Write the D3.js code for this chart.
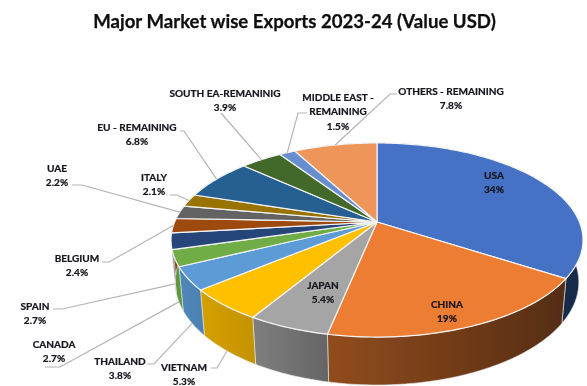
<!DOCTYPE html>
<html>
<head>
<meta charset="utf-8">
<script src="https://cdn.jsdelivr.net/npm/d3@7"></script>
<style>
  html, body { margin: 0; padding: 0; background: #fff; overflow: hidden; }
  text { font-family: Lato, "Open Sans", sans-serif; font-weight: 700; fill: #14141c; }
  .chart-title { font-size: 18.6px; text-anchor: middle; fill: #0c0c0c; stroke: #0c0c0c; stroke-width: 0.25; }
  .slice-label { font-size: 10.05px; text-anchor: middle; stroke: #14141c; stroke-width: 0.22; }
  .leader { fill: none; stroke: #b4b4b4; stroke-width: 1.2; }
  .top-face { stroke: #f4f4f4; stroke-width: 1.2; stroke-linejoin: round; }
  .wall { stroke: #e8e8e8; stroke-width: 0.6; }
</style>
</head>
<body>
<div id="wrapper"></div>
<script>
// values, clockwise from 12 o'clock
const categories = [
  "USA", "CHINA", "JAPAN", "VIETNAM", "THAILAND", "CANADA", "SPAIN",
  "BELGIUM", "UAE", "ITALY", "EU - REMAINING", "SOUTH EA-REMANINIG",
  "MIDDLE EAST - REMAINING", "OTHERS - REMAINING",
];
const shares = [34, 19, 5.4, 5.3, 3.8, 2.7, 2.7, 2.4, 2.2, 2.1, 6.8, 3.9, 1.5, 7.8];
const sliceColors = [
  "#4472c4", "#ed7d31", "#a5a5a5", "#ffc000", "#5b9bd5", "#70ad47", "#264478",
  "#9e480e", "#636363", "#997300", "#255e91", "#43682b", "#698ed0", "#ee955a",
];

// label placement: text lines, centre x, first line y, and leader elbow (none = no leader)
const labelLayout = {
  "USA": { x: 494, y: 179, lines: ["USA"] },
  "CHINA": { x: 447, y: 308, lines: ["CHINA"] },
  "JAPAN": { x: 323, y: 289, lines: ["JAPAN"] },
  "VIETNAM": { x: 184, y: 371, lines: ["VIETNAM"], elbow: [[211, 368], [217, 368]] },
  "THAILAND": { x: 120, y: 365, lines: ["THAILAND"], elbow: [[147, 364], [154, 364]] },
  "CANADA": { x: 54, y: 348, lines: ["CANADA"], elbow: [[45, 367], [60, 367]] },
  "SPAIN": { x: 35, y: 310, lines: ["SPAIN"], elbow: [[53, 309], [62, 309]] },
  "BELGIUM": { x: 77, y: 262, lines: ["BELGIUM"], elbow: [[102, 262], [109, 262]] },
  "UAE": { x: 57, y: 172, lines: ["UAE"], elbow: [[72, 185], [82, 185]] },
  "ITALY": { x: 154, y: 181, lines: ["ITALY"], elbow: [[170, 195], [177, 195]] },
  "EU - REMAINING": { x: 137, y: 131, lines: ["EU - REMAINING"], elbow: [[180, 131], [184, 131]] },
  "SOUTH EA-REMANINIG": { x: 225, y: 97, lines: ["SOUTH EA-REMANINIG"], elbow: [[221, 113]] },
  "MIDDLE EAST - REMAINING": { x: 338, y: 101, lines: ["MIDDLE EAST -", "REMAINING"], elbow: [[307, 113], [298, 113]] },
  "OTHERS - REMAINING": { x: 451, y: 95, lines: ["OTHERS - REMAINING"], elbow: [[397, 94], [390, 94]] },
};

const width = 587;
const height = 386;
const lineHeight = 14.4;

// pie seen in perspective: unit circle (u, v) pushed through a homography,
// h = 0 is the top face and h = 1 the bottom rim
const view = { cx: 377, cy: 222, rx: 202.4, ry: 93.7, tilt: -0.1856, depth: 42.3, shrink: 0.02 };

function project(angle, h = 0, r = 1) {
  const u = Math.sin(angle) * r;
  const v = -Math.cos(angle) * r;
  const w = 1 + view.tilt * v + view.shrink * h;
  return [view.cx + (view.rx * u) / w, view.cy + (view.ry * v + view.depth * h) / w];
}

function arcPoints(a0, a1, h) {
  const n = Math.max(2, Math.ceil((a1 - a0) / 0.02));
  return d3.range(n + 1).map((i) => project(a0 + ((a1 - a0) * i) / n, h));
}

const svg = d3
  .select("#wrapper")
  .append("svg")
  .attr("width", width)
  .attr("height", height)
  .style("display", "block");

const defs = svg.append("defs");
defs
  .append("filter")
  .attr("id", "soft")
  .append("feGaussianBlur")
  .attr("stdDeviation", 0.35);

const root = svg.append("g").attr("filter", "url(#soft)");

root
  .append("text")
  .attr("class", "chart-title")
  .attr("x", 294.5)
  .attr("y", 28)
  .text("Major Market wise Exports 2023-24 (Value USD)");

const pie = d3.pie().sort(null).value((d) => d.share);
const slices = pie(categories.map((name, i) => ({ name, share: shares[i], color: sliceColors[i] })));

const line = d3.line();

// walls get darker from left to right
const wallShade = d3.scaleLinear().domain([172, 230, 300, 330, 565]).range([0.88, 0.79, 0.72, 0.6, 0.36]).clamp(true);
const darken = (color, k) => {
  const c = d3.rgb(color);
  return d3.rgb(c.r * k, c.g * k, c.b * k).formatHex();
};

const wallGroup = root.append("g");
slices.forEach((d, i) => {
  const top = arcPoints(d.startAngle, d.endAngle, 0);
  const bottom = arcPoints(d.startAngle, d.endAngle, 1).reverse();
  const xs = top.map((p) => p[0]);
  const [x0, x1] = d3.extent(xs);
  const gradient = defs
    .append("linearGradient")
    .attr("id", `wall-${i}`)
    .attr("gradientUnits", "userSpaceOnUse")
    .attr("x1", x0)
    .attr("x2", x1)
    .attr("y1", 0)
    .attr("y2", 0);
  gradient.append("stop").attr("offset", "0%").attr("stop-color", darken(d.data.color, wallShade(x0)));
  gradient.append("stop").attr("offset", "100%").attr("stop-color", darken(d.data.color, wallShade(x1)));
  wallGroup
    .append("path")
    .attr("class", "wall")
    .attr("d", line(top.concat(bottom)) + "Z")
    .attr("fill", `url(#wall-${i})`);
});

root
  .append("g")
  .selectAll("path")
  .data(slices)
  .join("path")
  .attr("class", "top-face")
  .attr("fill", (d) => d.data.color)
  .attr("d", (d) => line([[view.cx, view.cy], ...arcPoints(d.startAngle, d.endAngle, 0)]) + "Z");

// leaders land on the top rim, or on the bottom rim for the slices facing us
const leaderGroup = root.append("g");
slices.forEach((d) => {
  const layout = labelLayout[d.data.name];
  if (!layout.elbow) return;
  const mid = (d.startAngle + d.endAngle) / 2;
  const anchor = project(mid, -Math.cos(mid) > 0.1 ? 1 : 0);
  leaderGroup
    .append("path")
    .attr("class", "leader")
    .attr("d", line([...layout.elbow, anchor]));
});

const labelGroup = root.append("g");
slices.forEach((d) => {
  const layout = labelLayout[d.data.name];
  const rows = [...layout.lines, `${d.data.share}%`];
  rows.forEach((row, r) => {
    labelGroup
      .append("text")
      .attr("class", "slice-label")
      .attr("x", layout.x)
      .attr("y", layout.y + r * lineHeight)
      .text(row);
  });
});
</script>
</body>
</html>
